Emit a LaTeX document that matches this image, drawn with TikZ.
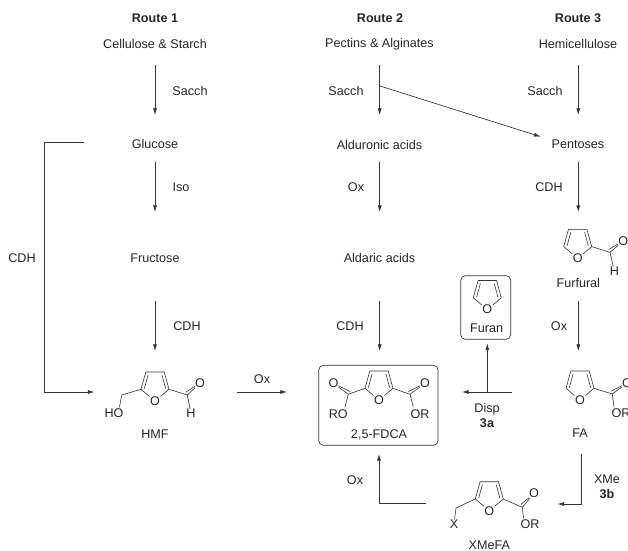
\documentclass[tikz,border=0pt]{standalone}
\usepackage{fontspec}
\setmainfont{Liberation Sans}
\usetikzlibrary{arrows.meta}
\tikzset{
  x=0.75pt,y=-0.75pt,
  lbl/.style={inner sep=0pt,font=\fontsize{9.45}{11}\selectfont,text=black!85},
  blbl/.style={inner sep=0pt,font=\fontsize{9.45}{11}\selectfont\bfseries,text=black!85},
  atom/.style={inner sep=0pt,font=\fontsize{9.45}{11}\selectfont,text=black!85},
  rxn/.style={draw=black!80,line width=0.5pt,-{Latex[length=5pt,width=3pt]}},
  bond/.style={draw=black!80,line width=0.45pt,line cap=round},
  frame/.style={draw=black!80,line width=0.5pt,rounded corners=3.5pt}
}
% furan ring with oxygen at #1
\newcommand{\furanring}[3]{%
  \node[atom] (#1) at (#2,#3) {O};
  \begin{scope}[shift={(#2,#3)}]
    \coordinate (#1a) at (-14,-11.7);
    \coordinate (#1b) at (-9.2,-29);
    \coordinate (#1c) at (9.2,-29);
    \coordinate (#1d) at (14,-11.7);
    \draw[bond] (-5.5,-4.5) -- (#1a) -- (#1b) -- (#1c) -- (#1d) -- (5.5,-4.5);
    \draw[bond] (-10.6,-12.6) -- (-7,-25.8);
    \draw[bond] (10.6,-12.6) -- (7,-25.8);
  \end{scope}}
\begin{document}
\begin{tikzpicture}
\useasboundingbox (0,0) rectangle (628,550);
% headers
\node[blbl] (r1) at (155,18) {Route 1};
\node[blbl] (r2) at (380,18) {Route 2};
\node[blbl] (r3) at (578,18) {Route 3};
% route 1
\node[lbl] (cs) at (155,43.5) {Cellulose \& Starch};
\node[lbl] (glu) at (155,144) {Glucose};
\node[lbl] (fru) at (155,258) {Fructose};
\node[lbl] (hmf) at (155,434) {HMF};
% route 2
\node[lbl] (pa) at (379.5,44.5) {Pectins \& Alginates};
\node[lbl] (alu) at (379.5,144.5) {Alduronic acids};
\node[lbl] (ald) at (379.5,258) {Aldaric acids};
% route 3
\node[lbl] (hem) at (578,43.5) {Hemicellulose};
\node[lbl] (pen) at (578,144.5) {Pentoses};
\node[lbl] (fur) at (578.3,283.3) {Furfural};
\node[lbl] (fa) at (580,433) {FA};
\node[lbl] (xmefa) at (489.3,545) {XMeFA};
% arrow labels
\node[lbl] at (190,90.5) {Sacch};
\node[lbl] at (181,187.5) {Iso};
\node[lbl] at (187,326) {CDH};
\node[lbl] at (22,258) {CDH};
\node[lbl] at (262,379.5) {Ox};
\node[lbl] at (346,90.5) {Sacch};
\node[lbl] at (356,187.5) {Ox};
\node[lbl] at (350,326) {CDH};
\node[lbl] at (545,90.5) {Sacch};
\node[lbl] at (549,187.5) {CDH};
\node[lbl] at (559,326) {Ox};
\node[lbl] at (487,409) {Disp};
\node[blbl] at (487,423) {3a};
\node[lbl] at (355,480) {Ox};
\node[lbl] at (607,479) {XMe};
\node[blbl] at (607,493.5) {3b};
% free ends
\coordinate (a1s) at (155,65); \coordinate (a1e) at (155,115);
\coordinate (a2s) at (155,162); \coordinate (a2e) at (155,212);
\coordinate (a3s) at (155,301); \coordinate (a3e) at (155,351);
\coordinate (b1s) at (379.7,65); \coordinate (b1e) at (379.7,115);
\coordinate (b2s) at (379.7,162); \coordinate (b2e) at (379.7,212);
\coordinate (b3s) at (379.7,301); \coordinate (b3e) at (379.7,351);
\coordinate (bd) at (380,86); \coordinate (bde) at (540.7,136.7);
\coordinate (c1s) at (578.3,65); \coordinate (c1e) at (578.3,115);
\coordinate (c2s) at (578.3,162); \coordinate (c2e) at (578.3,212);
\coordinate (c3s) at (578.3,301); \coordinate (c3e) at (578.3,351);
\draw[rxn] (a1s) -- (a1e);
\draw[rxn] (a2s) -- (a2e);
\draw[rxn] (a3s) -- (a3e);
\draw[rxn] (b1s) -- (b1e);
\draw[rxn] (b2s) -- (b2e);
\draw[rxn] (b3s) -- (b3e);
\draw[rxn] (bd) -- (bde);
\draw[rxn] (c1s) -- (c1e);
\draw[rxn] (c2s) -- (c2e);
\draw[rxn] (c3s) -- (c3e);
\coordinate (l1) at (84,142.3); \coordinate (l2) at (44,142.3); \coordinate (l3) at (44,392); \coordinate (l4) at (94.5,392);
\draw[rxn] (l1) -- (l2) -- (l3) -- (l4);
\coordinate (o1) at (237,392); \coordinate (o2) at (287,392);
\draw[rxn] (o1) -- (o2);
\coordinate (d1) at (512,392); \coordinate (d2) at (462,392); \coordinate (d3) at (487.3,392); \coordinate (d4) at (487.3,343.5);
\draw[rxn] (d1) -- (d2);
\draw[rxn] (d3) -- (d4);
\coordinate (x1) at (425.5,503.5); \coordinate (x2) at (379,503.5); \coordinate (x3) at (379,454);
\draw[rxn] (x1) -- (x2) -- (x3);
\coordinate (y1) at (581.7,454); \coordinate (y2) at (581.7,504); \coordinate (y3) at (557.5,504);
\draw[rxn] (y1) -- (y2) -- (y3);
% HMF
\furanring{hO}{155}{401}
\coordinate (hL) at (121.7,395); \coordinate (hR) at (187.3,395);
\node[atom] (hHO) at (114,413.5) {HO};
\node[atom] (hOx) at (200,383) {O};
\node[atom] (hH) at (191,413.5) {H};
\coordinate (hLe) at (119.5,407);
\draw[bond] (hOa) -- (hL) -- (hLe);
\draw[bond] (hOd) -- (hR) -- (hH);
\draw[bond] (hR) -- (hOx);
\draw[bond] (186,392) -- (hOx);
% FDCA
\node[frame] (fdcabox) at (378.4,405.3) [minimum width=89.5pt,minimum height=60pt] {};
\furanring{fO}{379}{400}
\coordinate (fL) at (348.3,394.3); \coordinate (fR) at (410,394.3);
\node[atom] (fOl) at (333.5,383.3) {O};
\node[atom] (fOr) at (425,383.3) {O};
\node[atom] (fRO) at (338.3,414) {RO};
\node[atom] (fOR) at (420,414) {OR};
\coordinate (fLe) at (345,407); \coordinate (fRe) at (413.3,407);
\draw[bond] (fOa) -- (fL) -- (fLe);
\draw[bond] (fOd) -- (fR) -- (fRe);
\draw[bond] (fL) -- (fOl);
\draw[bond] (350,391.5) -- (fOl);
\draw[bond] (fR) -- (fOr);
\draw[bond] (408.3,391.5) -- (fOr);
\node[lbl] (fdca) at (379,435) {2,5-FDCA};
% Furan
\node[frame] (furanbox) at (485.7,307.5) [minimum width=37.5pt,minimum height=47.7pt] {};
\furanring{nO}{487.3}{309.5}
\node[lbl] (furan) at (486.7,328.7) {Furan};
% Furfural
\furanring{uO}{577.7}{258.3}
\coordinate (uR) at (610,252.3);
\node[atom] (uOx) at (623.3,241) {O};
\node[atom] (uH) at (614.3,271) {H};
\draw[bond] (uOd) -- (uR) -- (uH);
\draw[bond] (uR) -- (uOx);
\draw[bond] (608.8,249.4) -- (uOx);
% FA
\furanring{aO}{580}{400}
\coordinate (aR) at (612.3,394);
\node[atom] (aOx) at (627,383.3) {O};
\node[atom] (aOR) at (621,413.5) {OR};
\coordinate (aRe) at (614,407);
\draw[bond] (aOd) -- (aR) -- (aRe);
\draw[bond] (aR) -- (aOx);
\draw[bond] (611,391.2) -- (aOx);
% XMeFA
\furanring{xO}{489.3}{510.7}
\coordinate (xL) at (456,508); \coordinate (xR) at (522.3,507.3);
\node[atom] (xX) at (454,524) {X};
\node[atom] (xOx) at (534,493.5) {O};
\node[atom] (xOR) at (530,524) {OR};
\coordinate (xRe) at (523.5,518);
\draw[bond] (xOa) -- (xL) -- (xX);
\draw[bond] (xOd) -- (xR) -- (xRe);
\draw[bond] (xR) -- (xOx);
\draw[bond] (521,504.4) -- (xOx);
\end{tikzpicture}
\end{document}
